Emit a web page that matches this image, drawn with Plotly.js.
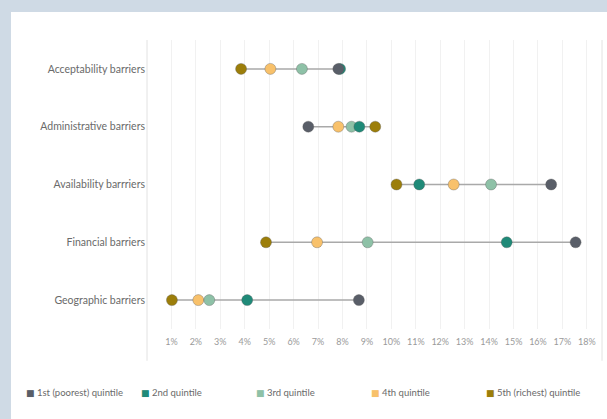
<!DOCTYPE html>
<html>
<head>
<meta charset="utf-8">
<script src="https://cdn.plot.ly/plotly-3.0.1.min.js"></script>
<style>
  body { margin: 0; background: #cfdae5; overflow: hidden; }
  #chart { position: absolute; left: 11px; top: 12px; width: 596px; height: 407px; background: #fff; }
</style>
</head>
<body>
<div id="chart"></div>
<script>
// barrier categories, top to bottom
var barriers = ["Acceptability barriers", "Administrative barriers", "Availability barrriers", "Financial barriers", "Geographic barriers"];

// share of people reporting each barrier (%), per wealth quintile
var q1 = [7.83, 6.6, 16.54, 17.54, 8.67];
var q2 = [7.9, 8.69, 11.14, 14.72, 4.1];
var q3 = [6.34, 8.37, 14.08, 9.03, 2.55];
var q4 = [5.05, 7.83, 12.55, 6.96, 2.1];
var q5 = [3.85, 9.34, 10.21, 4.87, 1.02];

var quintileNames = ["1st (poorest) quintile", "2nd quintile", "3rd quintile", "4th quintile", "5th (richest) quintile"];
var quintileColors = ["#595e68", "#1f8a78", "#8ec1a7", "#f8c16b", "#9c7e0a"];
var quintileValues = [q1, q2, q3, q4, q5];

var tickVals = [1, 2, 3, 4, 5, 6, 7, 8, 9, 10, 11, 12, 13, 14, 15, 16, 17, 18];
var tickText = tickVals.map(function (v) { return v + "%"; });

var plotLeft = 136, plotWidth = 455, plotBottom = 317, plotHeight = 289;

var traces = [];

// grey connector from the lowest to the highest quintile for each barrier
for (var i = 0; i < barriers.length; i++) {
    var vals = quintileValues.map(function (q) { return q[i]; });
    traces.push({
        x: [Math.min.apply(null, vals), Math.max.apply(null, vals)],
        y: [barriers[i], barriers[i]],
        type: "scatter",
        mode: "lines",
        line: { color: "#a9a9a9", width: 1.5 },
        showlegend: false,
        hoverinfo: "skip"
    });
}

// dots, richest first so the poorest ends up on top
for (var k = quintileValues.length - 1; k >= 0; k--) {
    traces.push({
        x: quintileValues[k],
        y: barriers,
        type: "scatter",
        mode: "markers",
        name: quintileNames[k],
        marker: {
            color: quintileColors[k],
            size: 11,
            line: { color: "rgba(90,90,90,0.35)", width: 1 }
        },
        showlegend: false
    });
}

// tableau-style legend row: square swatch + label, fixed column width
var legendNotes = [];
for (var k = 0; k < quintileNames.length; k++) {
    var px = 13 + k * 115;
    legendNotes.push({
        xref: "paper", yref: "paper",
        x: (px - plotLeft) / plotWidth,
        y: (plotBottom - 380) / plotHeight,
        xanchor: "left", yanchor: "middle",
        showarrow: false,
        text: '<span style="color:' + quintileColors[k] + ';font-family:DejaVu Sans;font-size:9px">■</span> ' + quintileNames[k],
        font: { size: 9.5, color: "#6a6a6a" }
    });
}

var layout = {
    width: 596,
    height: 407,
    margin: { l: plotLeft, r: 5, t: 28, b: 90 },
    paper_bgcolor: "#ffffff",
    plot_bgcolor: "#ffffff",
    font: { family: "Lato, sans-serif", color: "#666666", size: 10 },
    xaxis: {
        range: [0, 18.62],
        tickvals: tickVals,
        ticktext: tickText,
        showgrid: true,
        gridcolor: "#f1f1f1",
        gridwidth: 1,
        zeroline: false,
        showline: false,
        ticks: "",
        ticklabelstandoff: 6,
        tickfont: { size: 9, color: "#9a9a9a" },
        automargin: false,
        fixedrange: true
    },
    yaxis: {
        type: "category",
        categoryarray: barriers,
        range: [4.5, -0.5],
        showgrid: false,
        zeroline: false,
        showline: false,
        ticks: "",
        ticklabelstandoff: 1,
        tickfont: { size: 10.5, color: "#6a6a6a" },
        automargin: false,
        fixedrange: true
    },
    shapes: [
        { type: "line", xref: "paper", yref: "paper", x0: 0, x1: 0, y0: 1, y1: -0.11, line: { color: "#e2e2e2", width: 1 } },
        { type: "line", xref: "paper", yref: "paper", x0: 1, x1: 1, y0: 1, y1: -0.11, line: { color: "#e2e2e2", width: 1 } }
    ],
    annotations: legendNotes,
    showlegend: false,
    hovermode: false
};

Plotly.newPlot("chart", traces, layout, { displayModeBar: false, staticPlot: true });
</script>
</body>
</html>
